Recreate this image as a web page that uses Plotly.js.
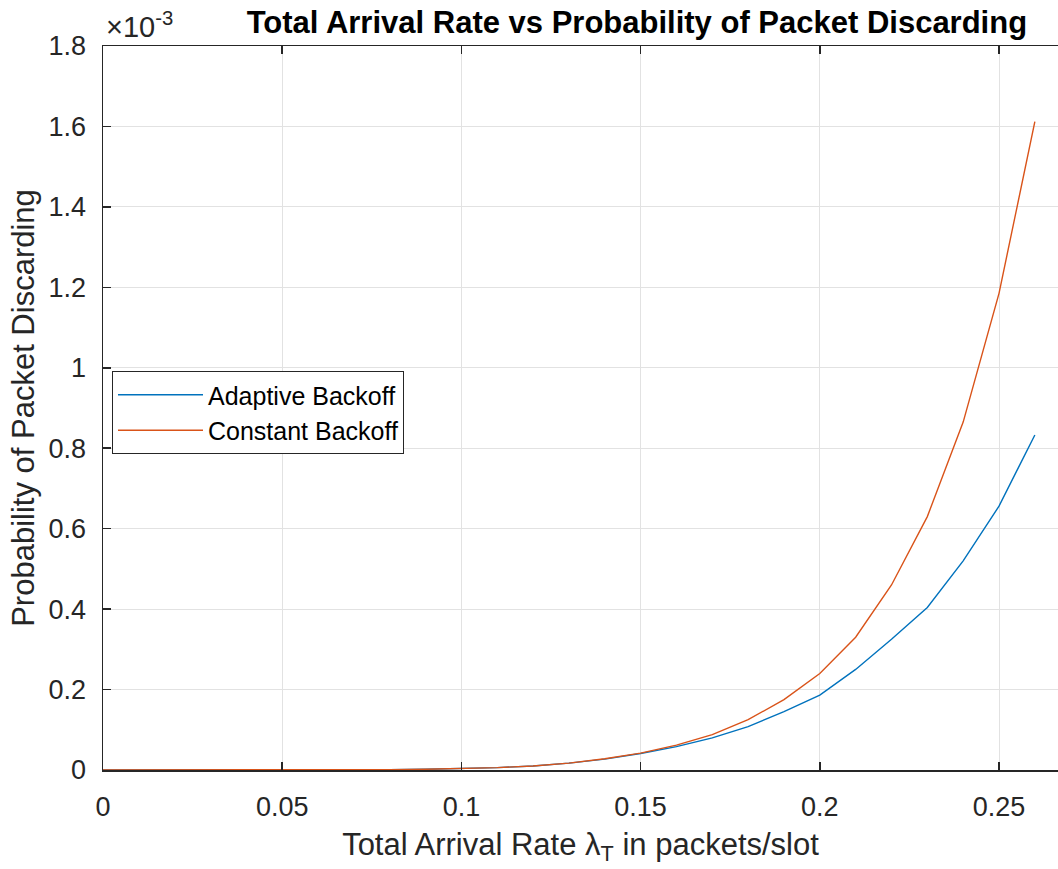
<!DOCTYPE html>
<html>
<head>
<meta charset="utf-8">
<script src="https://cdn.plot.ly/plotly-3.0.1.min.js"></script>
<style>html,body{margin:0;padding:0;background:#fff;}#chart{width:1058px;height:869px;}</style>
</head>
<body>
<div id="chart"></div>
<script>
// Total arrival rate (packets/slot)
const arrivalRate = [0, 0.01, 0.02, 0.03, 0.04, 0.05, 0.06, 0.07, 0.08, 0.09, 0.10, 0.11, 0.12, 0.13,
                     0.14, 0.15, 0.16, 0.17, 0.18, 0.19, 0.20, 0.21, 0.22, 0.23, 0.24, 0.25, 0.26];
// Probability of packet discarding, in units of 1e-3 (axis shows x10^-3)
const adaptiveBackoff = [0, 0, 0, 0.00001, 0.00003, 0.0001, 0.0002, 0.0005, 0.001, 0.002, 0.0035, 0.006, 0.010, 0.017,
                         0.027, 0.041, 0.058, 0.080, 0.108, 0.145, 0.186, 0.250, 0.325, 0.404, 0.520, 0.656, 0.833];
const constantBackoff = [0, 0, 0, 0.00001, 0.00003, 0.0001, 0.0002, 0.0005, 0.001, 0.002, 0.0035, 0.006, 0.010, 0.017,
                         0.028, 0.042, 0.062, 0.088, 0.125, 0.175, 0.240, 0.330, 0.460, 0.630, 0.865, 1.185, 1.612];
const seriesNames = ["Adaptive Backoff", "Constant Backoff"];
const xTickVals = [0, 0.05, 0.1, 0.15, 0.2, 0.25];
const xTickText = ["0", "0.05", "0.1", "0.15", "0.2", "0.25"];
const yTickVals = [0, 0.2, 0.4, 0.6, 0.8, 1, 1.2, 1.4, 1.6, 1.8];
const yTickText = ["0", "0.2", "0.4", "0.6", "0.8", "1", "1.2", "1.4", "1.6", "1.8"];

const FONT = "Liberation Sans, Arial, Helvetica, sans-serif";
const AX = "#262626";

const traces = [
  {x: arrivalRate, y: adaptiveBackoff, name: seriesNames[0], type: "scatter", mode: "lines",
   line: {color: "#0072BD", width: 1.4}},
  {x: arrivalRate, y: constantBackoff, name: seriesNames[1], type: "scatter", mode: "lines",
   line: {color: "#D95319", width: 1.4}}
];

const layout = {
  width: 1058, height: 869,
  margin: {l: 103, r: 0, t: 46, b: 99, pad: 0},
  paper_bgcolor: "#ffffff", plot_bgcolor: "#ffffff",
  font: {family: FONT, color: AX},
  title: {
    text: "<b>Total Arrival Rate vs Probability of Packet Discarding</b>",
    font: {family: FONT, size: 31, color: "#000000"},
    xref: "container", x: 0.602, xanchor: "center",
    yref: "container", y: 1 - 22/869, yanchor: "middle"
  },
  showlegend: true,
  legend: {
    x: 9/955, xanchor: "left", y: 1 - (371-46)/724, yanchor: "top",
    bgcolor: "#ffffff", bordercolor: AX, borderwidth: 1,
    font: {family: FONT, size: 25, color: "#000000"},
    itemwidth: 85, tracegroupgap: 0
  },
  xaxis: {
    range: [0, 0.26646], tickvals: xTickVals, ticktext: xTickText,
    showgrid: true, gridcolor: "#e2e2e2", gridwidth: 1,
    zeroline: false, showline: true, linecolor: AX, linewidth: 1.5,
    mirror: "ticks", ticks: "inside", ticklen: 8, tickwidth: 1.5, tickcolor: AX,
    tickfont: {family: FONT, size: 27, color: AX}, ticklabelstandoff: 12,
    title: {text: "Total Arrival Rate λ<sub>T</sub> in packets/slot", font: {family: FONT, size: 31, color: AX}, standoff: 12}
  },
  yaxis: {
    range: [0, 1.8], tickvals: yTickVals, ticktext: yTickText,
    showgrid: true, gridcolor: "#e2e2e2", gridwidth: 1,
    zeroline: false, showline: true, linecolor: AX, linewidth: 1.5,
    mirror: false, ticks: "inside", ticklen: 8, tickwidth: 1.5, tickcolor: AX,
    tickfont: {family: FONT, size: 27, color: AX}, ticklabelstandoff: 10,
    title: {text: "Probability of Packet Discarding", font: {family: FONT, size: 31, color: AX}, standoff: 4}
  },
  annotations: [{
    text: "×10<sup>-3</sup>", xref: "paper", yref: "paper", x: 0, y: 1,
    xanchor: "left", yanchor: "bottom", xshift: 1, yshift: 1, showarrow: false,
    font: {family: FONT, size: 29, color: AX}
  }]
};

Plotly.newPlot("chart", traces, layout, {displayModeBar: false, staticPlot: true});
</script>
</body>
</html>
